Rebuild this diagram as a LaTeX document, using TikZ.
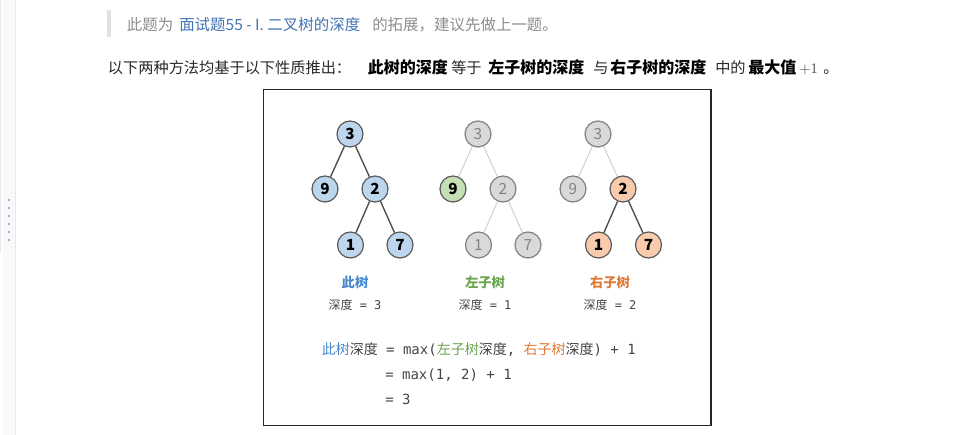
\documentclass[tikz,border=0pt]{standalone}
\usepackage[no-math]{fontspec}
\setmainfont{Noto Sans CJK SC}
\newfontfamily\codefont{DejaVu Sans Mono}
\usepackage{tikz}
\usetikzlibrary{positioning}

\definecolor{treeblue}{RGB}{189, 214, 238}
\definecolor{treegreen}{RGB}{197, 224, 180}
\definecolor{treeorange}{RGB}{248, 203, 173}
\definecolor{fadefill}{RGB}{217, 217, 217}
\definecolor{fadeedge}{RGB}{128, 128, 128}
\definecolor{fadetext}{RGB}{130, 130, 130}
\definecolor{nodeedge}{RGB}{90, 90, 90}
\definecolor{edgedark}{RGB}{75, 75, 75}
\definecolor{edgelight}{RGB}{210, 210, 210}
\definecolor{labblue}{RGB}{72, 136, 204}
\definecolor{labgreen}{RGB}{106, 164, 78}
\definecolor{laborange}{RGB}{224, 122, 56}
\definecolor{formtext}{RGB}{68, 68, 68}
\definecolor{quotegray}{RGB}{140, 140, 140}
\definecolor{quotebar}{RGB}{224, 224, 224}
\definecolor{linkblue}{RGB}{66, 116, 180}
\definecolor{maintext}{RGB}{40, 40, 40}
\definecolor{sidebg}{RGB}{248, 249, 251}
\definecolor{sideline}{RGB}{232, 234, 238}
\definecolor{dotgray}{RGB}{175, 178, 184}

\begin{document}
\begin{tikzpicture}[x=0.75pt, y=-0.75pt,
  tnode/.style={circle, line width=0.9pt, minimum size=19.5pt, inner sep=0pt,
    font=\fontsize{11.5}{11.5}\selectfont},
  activenode/.style={tnode, draw=nodeedge, text=black, font=\bfseries\fontsize{11.5}{11.5}\selectfont},
  bluenode/.style={activenode, fill=treeblue},
  greennode/.style={activenode, fill=treegreen},
  orangenode/.style={activenode, fill=treeorange},
  graynode/.style={tnode, draw=fadeedge, fill=fadefill, text=fadetext},
  darkedge/.style={line width=1pt, draw=edgedark},
  lightedge/.style={line width=0.8pt, draw=edgelight},
  quotetxt/.style={inner sep=0pt, anchor=base west, font=\fontsize{11.6}{13}\selectfont},
  maintxt/.style={inner sep=0pt, anchor=base west, text=maintext, font=\fontsize{11.4}{14}\selectfont},
  strongtxt/.style={maintxt, text=black, font=\bfseries\fontsize{12}{14}\selectfont},
  treelabel/.style={inner sep=0pt, font=\bfseries\fontsize{10}{12}\selectfont},
  depthlabel/.style={inner sep=0pt, text=formtext, font=\fontsize{9}{11}\selectfont},
  formula/.style={inner sep=0pt, anchor=west, text=formtext, font=\fontsize{10.5}{13}\selectfont},
]
\useasboundingbox (0,0) rectangle (958,435);

% left side bar of the page
\fill[sidebg] (3,0) rectangle (15,435);
\draw[sideline] (15,0) -- (15,435);
\draw[sideline] (0.5,0) -- (0.5,253);
\foreach \y in {200,208,216,224,232,240}
  \fill[dotgray] (8,\y-1) rectangle (10,\y+1);

% quote line
\fill[quotebar] (107,10) rectangle (110.5,37);
\node[quotetxt, text=quotegray] (q1) at (126.7,30.5) {此题为};
\node[quotetxt, text=linkblue] (q2) at (179,30.5) {面试题55 - I. 二叉树的深度};
\node[quotetxt, text=quotegray] (q3) at (372,30.5) {的拓展，建议先做上一题。};

% statement line
\node[maintxt] (m1) at (107.7,74) {以下两种方法均基于以下性质推出：};
\node[strongtxt] (m2) at (367.7,74) {此树的深度};
\node[maintxt] (m3) at (451,74) {等于};
\node[strongtxt] (m4) at (488,74) {左子树的深度};
\node[maintxt] (m5) at (593,74) {与};
\node[strongtxt] (m6) at (610,74) {右子树的深度};
\node[maintxt] (m7) at (715,74) {中的};
\node[strongtxt] (m8) at (748,74) {最大值};
\node[maintxt, text=formtext] (m9) at (799,74) {$+1$};
\node[maintxt] (m10) at (823,74) {。};

% picture frame
\draw[line width=1pt, black!85] (263.5,89.5) rectangle (711,425.5);

% this tree
\node[bluenode] (a3) at (350,134) {3};
\node[bluenode] (a9) at (325,189) {9};
\node[bluenode] (a2) at (375,189) {2};
\node[bluenode] (a1) at (350.5,245) {1};
\node[bluenode] (a7) at (400,245) {7};
\draw[darkedge] (a3) -- (a9);
\draw[darkedge] (a3) -- (a2);
\draw[darkedge] (a2) -- (a1);
\draw[darkedge] (a2) -- (a7);

% left subtree
\node[graynode] (b3) at (478,134) {3};
\node[greennode] (b9) at (453,189) {9};
\node[graynode] (b2) at (503,189) {2};
\node[graynode] (b1) at (478.5,245) {1};
\node[graynode] (b7) at (528,245) {7};
\draw[lightedge] (b3) -- (b9);
\draw[lightedge] (b3) -- (b2);
\draw[lightedge] (b2) -- (b1);
\draw[lightedge] (b2) -- (b7);

% right subtree
\node[graynode] (c3) at (598,134) {3};
\node[graynode] (c9) at (573,189) {9};
\node[orangenode] (c2) at (623,189) {2};
\node[orangenode] (c1) at (598.5,245) {1};
\node[orangenode] (c7) at (648.5,245) {7};
\draw[lightedge] (c3) -- (c9);
\draw[lightedge] (c3) -- (c2);
\draw[darkedge] (c2) -- (c1);
\draw[darkedge] (c2) -- (c7);

% names and depths
\node[treelabel, text=labblue] (l1) at (355,282) {此树};
\node[treelabel, text=labgreen] (l2) at (485,282) {左子树};
\node[treelabel, text=laborange] (l3) at (610,282) {右子树};
\node[depthlabel] (d1) at (355,305) {深度{\codefont\ = 3}};
\node[depthlabel] (d2) at (485,305) {深度{\codefont\ = 1}};
\node[depthlabel] (d3) at (610,305) {深度{\codefont\ = 2}};

% recursion
\node[formula] (f1) at (321.5,349.5) {\textcolor{labblue}{此树}深度{\codefont\ = max(}\textcolor{labgreen}{左子树}深度{\codefont, }\textcolor{laborange}{右子树}深度{\codefont) + 1}};
\node[formula] (f2) at (385,375) {\codefont = max(1, 2) + 1};
\node[formula] (f3) at (385,399) {\codefont = 3};
\end{tikzpicture}
\end{document}
